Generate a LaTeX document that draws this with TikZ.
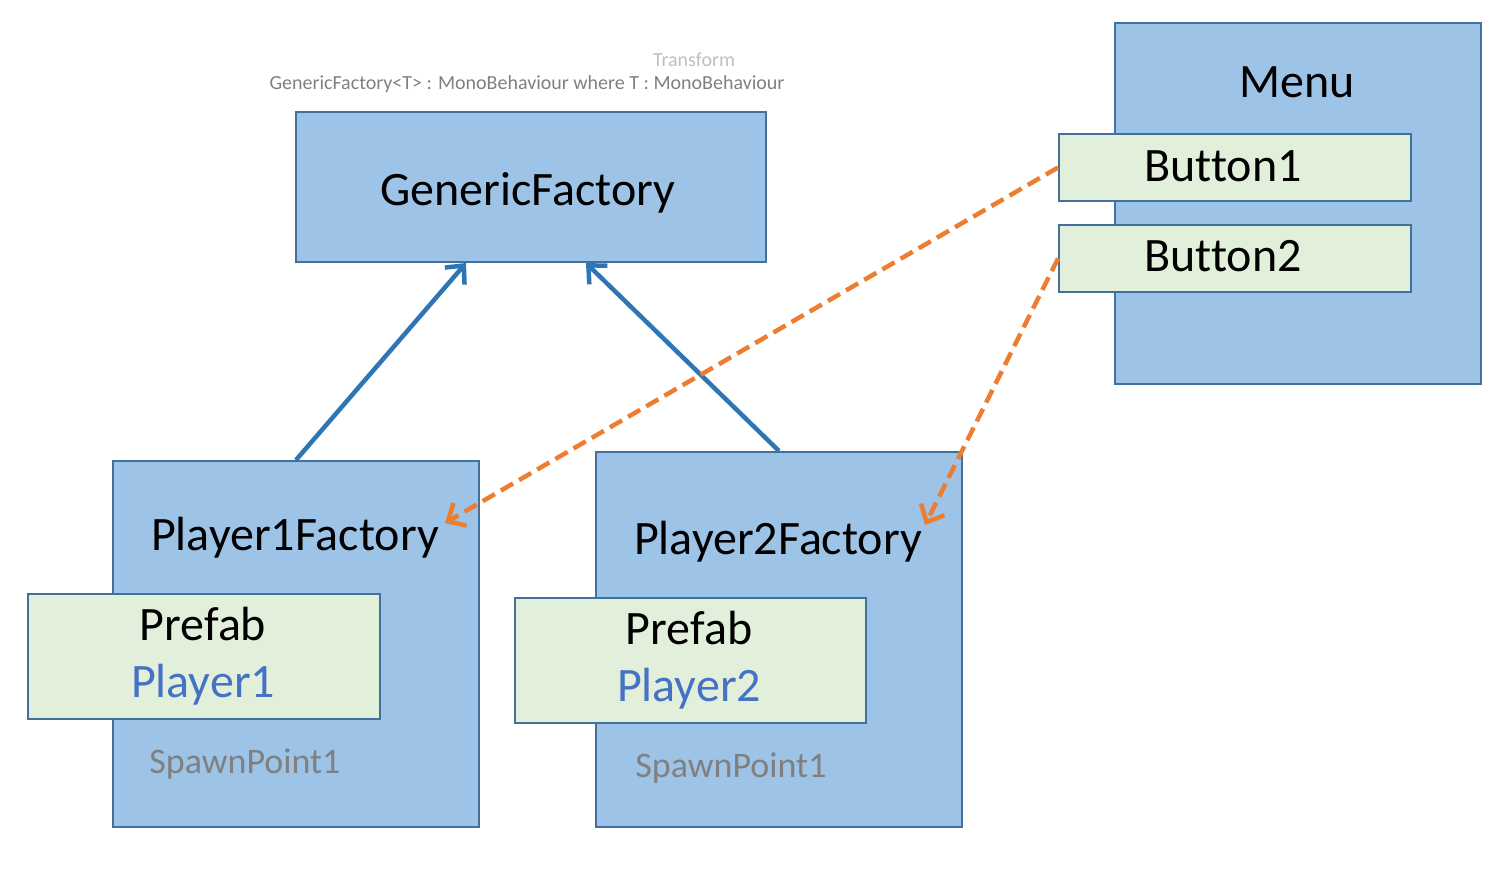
\documentclass[tikz,border=0pt]{standalone}
\usepackage{fontspec}
\setmainfont{Carlito}[Ligatures=NoCommon]
\definecolor{BoxBlue}{HTML}{9DC3E6}
\definecolor{EdgeBlue}{HTML}{41719C}
\definecolor{LinkBlue}{HTML}{2E75B6}
\definecolor{PaleGreen}{HTML}{E2EFDA}
\definecolor{AccentOrange}{HTML}{ED7D31}
\definecolor{NameBlue}{HTML}{4472C4}
\usepackage{tikz}
\usetikzlibrary{arrows.meta, positioning}

\begin{document}
\begin{tikzpicture}[x=1pt, y=-1pt,
  box/.style={rectangle, draw=EdgeBlue, line width=2pt, fill=BoxBlue,
    anchor=north west, inner sep=0pt},
  slot/.style={rectangle, draw=EdgeBlue, line width=2pt, fill=PaleGreen,
    anchor=north west, inner sep=0pt},
  big/.style={anchor=base, inner sep=0pt, font=\fontsize{48}{52}\selectfont},
  mid/.style={anchor=base, inner sep=0pt, font=\fontsize{36}{40}\selectfont, text=gray},
  small/.style={anchor=base, inner sep=0pt, font=\fontsize{20}{24}\selectfont},
  link/.style={line width=4.5pt, draw=LinkBlue,
    -{Straight Barb[length=14pt, width=26pt, line width=4.5pt]}},
  call/.style={line width=4.5pt, draw=AccentOrange, dash pattern=on 14pt off 7pt,
    -{Straight Barb[length=14pt, width=26pt, line width=4.5pt]}}
]
  \useasboundingbox (0,0) rectangle (1510,870);

  % boxes
  \node[box, minimum width=470pt, minimum height=150pt] (generic) at (295,111) {};
  \node[box, minimum width=366pt, minimum height=361pt] (menu) at (1114,22) {};
  \node[slot, minimum width=352pt, minimum height=67pt] (btnone) at (1058,133) {};
  \node[slot, minimum width=352pt, minimum height=67pt] (btntwo) at (1058,224) {};
  \node[box, minimum width=366pt, minimum height=366pt] (pfone) at (112,460) {};
  \node[slot, minimum width=352pt, minimum height=125pt] (prefabone) at (27,593) {};
  \node[box, minimum width=366pt, minimum height=375pt] (pftwo) at (595,451) {};
  \node[slot, minimum width=351pt, minimum height=125pt] (prefabtwo) at (514,597) {};

  % texts
  \node[small, text=black!25] (transformlbl) at (694,66) {Transform};
  \node[small, text=black!50] (sigline) at (527,89) {GenericFactory<T> : MonoBehaviour where T : MonoBehaviour};
  \node[big] (genericlbl) at (528,205) {GenericFactory};
  \node[big] (menulbl) at (1297,97) {Menu};
  \node[big] (btnonelbl) at (1223,181) {Button1};
  \node[big] (btntwolbl) at (1223,271) {Button2};
  \node[big] (pfonelbl) at (295,550) {Player1Factory};
  \node[big] (prefabonelbl) at (203,640) {Prefab};
  \node[big, text=NameBlue] (playeronelbl) at (203,697) {Player1};
  \node[mid] (spawnonelbl) at (245,773) {SpawnPoint1};
  \node[big] (pftwolbl) at (778,554) {Player2Factory};
  \node[big] (prefabtwolbl) at (689,644) {Prefab};
  \node[big, text=NameBlue] (playertwolbl) at (689,701) {Player2};
  \node[mid] (spawntwolbl) at (731,777) {SpawnPoint1};

  % arrows
  \coordinate (hitone) at (445,523);
  \coordinate (hittwo) at (925,525);
  \draw[link] (pfone.north) -- ([xshift=-65pt]generic.south);
  \draw[link] (pftwo.north) -- ([xshift=55pt]generic.south);
  \draw[call] (btnone.west) -- (hitone);
  \draw[call] (btntwo.west) -- (hittwo);
\end{tikzpicture}
\end{document}
